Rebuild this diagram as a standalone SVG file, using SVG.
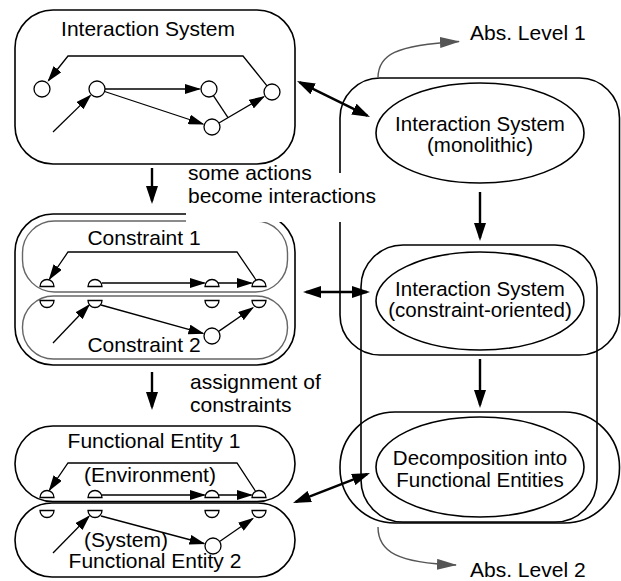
<svg xmlns="http://www.w3.org/2000/svg" width="621" height="581" viewBox="0 0 621 581">
  <style>
    text { font-family: "Liberation Sans", Arial, sans-serif; font-size: 21px; fill: #000; }
    .mid { text-anchor: middle; }
    .in { font-size: 20.5px; }
    .frame { fill: none; stroke: #000; stroke-width: 1.6; }
    .sub { fill: none; stroke: #666; stroke-width: 1.4; }
    .st { fill: #fff; stroke: #000; stroke-width: 1.3; }
    .e { fill: none; stroke: #000; stroke-width: 1.3; marker-end: url(#a); }
    .ln { fill: none; stroke: #000; stroke-width: 1.3; }
    .big { fill: none; stroke: #000; stroke-width: 2.4; marker-end: url(#A); }
    .both { marker-start: url(#A); }
    .lvl { fill: none; stroke: #555; stroke-width: 1.4; marker-end: url(#g); }
  </style>
  <defs>
    <marker id="a" viewBox="0 0 16 10" refX="14.5" refY="5" markerWidth="16" markerHeight="10" markerUnits="userSpaceOnUse" orient="auto">
      <path d="M0,0 L16,5 L0,10 z" fill="#000"/>
    </marker>
    <marker id="A" viewBox="0 0 18 12" refX="15" refY="6" markerWidth="18" markerHeight="12" markerUnits="userSpaceOnUse" orient="auto-start-reverse">
      <path d="M0,0 L18,6 L0,12 z" fill="#000"/>
    </marker>
    <marker id="g" viewBox="0 0 20 11" refX="19" refY="5.5" markerWidth="20" markerHeight="11" markerUnits="userSpaceOnUse" orient="auto">
      <path d="M0,0 L20,5.5 L0,11 z" fill="#555"/>
    </marker>
    <!-- upper and lower half-circle gates -->
    <path id="hu" d="M-7,0 A7,7 0 0 1 7,0 Z"/>
    <path id="hd" d="M-7,0 A7,7 0 0 0 7,0 Z"/>
  </defs>

  <!-- monolithic interaction system -->
  <g id="interaction-system">
    <rect class="frame" x="15" y="10" width="280" height="154" rx="38"/>
    <text class="mid" x="148" y="36">Interaction System</text>
    <path class="e" d="M105,89 L199.5,89"/>
    <path class="e" d="M104.6,91.5 L203,124"/>
    <path class="e" d="M53,132 L90.3,95.6"/>
    <path class="ln" d="M213.4,95.7 L228,117.7"/>
    <path class="e" d="M218.9,123 L263.8,96.8"/>
    <path class="e" d="M267,85.8 L243,56 L68,56 L48.5,80.5"/>
    <circle class="st" cx="42" cy="89" r="8"/>
    <circle class="st" cx="97" cy="89" r="8"/>
    <circle class="st" cx="209" cy="89" r="8"/>
    <circle class="st" cx="212" cy="127" r="8"/>
    <circle class="st" cx="272" cy="92" r="8"/>
  </g>

  <!-- constraint-oriented specification -->
  <g id="constraint-spec">
    <rect class="frame" x="15" y="214" width="280" height="151" rx="38"/>
    <g id="constraint-1">
      <rect class="sub" x="22.5" y="221" width="265" height="71" rx="32"/>
      <text class="mid" x="144" y="245">Constraint 1</text>
      <path class="e" d="M256,280 L237,252 L68,252 L49.5,279"/>
      <path class="e" d="M102,283 L204.5,283"/>
      <path class="e" d="M218,283 L251.5,283"/>
      <use href="#hu" class="st" x="47" y="286.5"/>
      <use href="#hu" class="st" x="95" y="286.5"/>
      <use href="#hu" class="st" x="212" y="286.5"/>
      <use href="#hu" class="st" x="259" y="286.5"/>
    </g>
    <g id="constraint-2">
      <rect class="sub" x="22.5" y="296" width="265" height="63" rx="31"/>
      <text class="mid" x="144" y="352">Constraint 2</text>
      <path class="e" d="M53,343 L89,305.2"/>
      <path class="e" d="M101,305 L203,333.4"/>
      <path class="e" d="M218.6,331.4 L252.8,307.8"/>
      <use href="#hd" class="st" x="47" y="300.5"/>
      <use href="#hd" class="st" x="95" y="300.5"/>
      <use href="#hd" class="st" x="212" y="300.5"/>
      <use href="#hd" class="st" x="259" y="300.5"/>
      <circle class="st" cx="212" cy="336" r="8"/>
    </g>
  </g>

  <!-- functional entities -->
  <g id="functional-entity-1">
    <rect class="frame" x="15" y="426" width="280" height="75.5" rx="37.75"/>
    <text class="mid" x="154" y="448">Functional Entity 1</text>
    <text class="mid" x="150" y="482">(Environment)</text>
    <path class="e" d="M256,492 L237,463 L68,463 L49.5,490"/>
    <path class="e" d="M102,495 L204.5,495"/>
    <path class="e" d="M218,495 L251.5,495"/>
    <use href="#hu" class="st" x="47" y="497.5"/>
    <use href="#hu" class="st" x="95" y="497.5"/>
    <use href="#hu" class="st" x="212" y="497.5"/>
    <use href="#hu" class="st" x="259" y="497.5"/>
  </g>
  <g id="functional-entity-2">
    <rect class="frame" x="15" y="503" width="280" height="74" rx="37"/>
    <path class="e" d="M53,553 L89,516.2"/>
    <path class="e" d="M101,516 L204,543.5"/>
    <path class="e" d="M219.6,541.5 L252.8,518.5"/>
    <use href="#hd" class="st" x="47" y="510.5"/>
    <use href="#hd" class="st" x="95" y="510.5"/>
    <use href="#hd" class="st" x="212" y="510.5"/>
    <use href="#hd" class="st" x="259" y="510.5"/>
    <circle class="st" cx="213" cy="546" r="8"/>
    <text class="mid" x="126" y="547">(System)</text>
    <text class="mid" x="155" y="568">Functional Entity 2</text>
  </g>

  <!-- abstraction levels -->
  <g id="abs-level-1-frame">
    <rect class="frame" x="340" y="78" width="279.5" height="277" rx="40"/>
  </g>
  <g id="abs-level-2-frame">
    <rect class="frame" x="361" y="245" width="236" height="277" rx="42"/>
  </g>
  <g id="decomposition-frame">
    <rect class="frame" x="340" y="412" width="279.5" height="111" rx="55"/>
  </g>

  <g id="monolithic">
    <ellipse class="frame" cx="480" cy="133" rx="104" ry="50"/>
    <text class="mid in" x="480" y="131">Interaction System</text>
    <text class="mid in" x="480" y="152">(monolithic)</text>
  </g>
  <g id="constraint-oriented">
    <ellipse class="frame" cx="480" cy="301" rx="104" ry="49"/>
    <text class="mid in" x="480" y="296">Interaction System</text>
    <text class="mid in" x="480" y="317">(constraint-oriented)</text>
  </g>
  <g id="decomposition">
    <ellipse class="frame" cx="480" cy="467" rx="104" ry="50"/>
    <text class="mid in" x="480" y="465">Decomposition into</text>
    <text class="mid in" x="480" y="487">Functional Entities</text>
  </g>

  <!-- connectors and their labels -->
  <g id="connectors">
    <path class="big" d="M152,168 L152,201"/>
    <path class="big" d="M152,372 L152,407"/>
    <path class="big" d="M480,192 L480,238"/>
    <path class="big" d="M480,359 L480,405"/>
    <path class="big both" d="M299.7,82.3 L367.3,115.7"/>
    <path class="big both" d="M306,292 L367,292"/>
    <path class="big both" d="M295.8,501.9 L367.2,474.1"/>
    <path class="lvl" d="M378,78 C378,55 395,45 459,41.5"/>
    <path class="lvl" d="M378,527 C378,552 398,563 456,565"/>
    <rect x="186" y="173" width="192" height="49" fill="#fff"/>
    <text x="188" y="180">some actions</text>
    <text x="188" y="203">become interactions</text>
    <text x="190" y="389">assignment of</text>
    <text x="190" y="412">constraints</text>
    <text x="470" y="40">Abs. Level 1</text>
    <text x="470" y="577">Abs. Level 2</text>
  </g>
</svg>
